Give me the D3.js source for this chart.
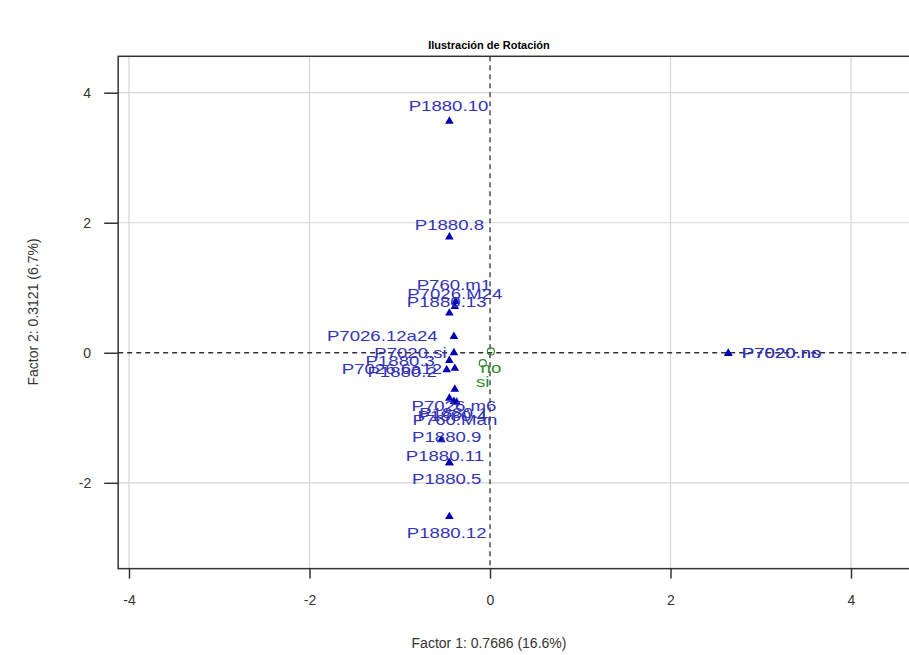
<!DOCTYPE html>
<meta charset="utf-8">
<script src="https://d3js.org/d3.v7.min.js"></script>
<style>
  body { margin: 0; background: #fff; }
  svg { font-family: "Liberation Sans", Arial, sans-serif; }
</style>
<div id="chart"></div>
<script>

// factor coordinates of the active categories (blue triangles)
var labels = ["P1880.10", "P1880.8", "P760.m1", "P7026.M24", "P1880.13", "P7026.12a24",
              "P7020.si", "P1880.3", "P7026.6a12", "P1880.2", "P7026.m6", "P1880.1",
              "P1880.4", "P760.Man", "P1880.9", "P1880.11", "P1880.5", "P1880.12",
              "P7020.no", "P7020.ns"]
var f1 = [-0.45, -0.45, -0.38, -0.39, -0.45, -0.40, -0.40, -0.45, -0.39, -0.48, -0.39, -0.45,
          -0.40, -0.37, -0.54, -0.45, -0.45, -0.45, 2.64, 2.64]
var f2 = [3.56, 1.78, 0.79, 0.71, 0.61, 0.25, 0.00, -0.12, -0.24, -0.26, -0.56, -0.70,
          -0.75, -0.76, -1.34, -1.69, -1.69, -2.52, -0.01, -0.01]
// where each label was placed (factor units) and its anchor
var labX = [-0.46, -0.45, -0.40, -0.39, -0.48, -0.58, -0.48, -0.61, -0.53, -0.59, -0.40, -0.40,
            -0.42, -0.39, -0.48, -0.50, -0.48, -0.48, 2.79, 2.79]
var labY = [3.79, 1.97, 1.04, 0.90, 0.78, 0.25, 0.00, -0.13, -0.25, -0.30, -0.82, -0.93,
            -0.97, -1.04, -1.30, -1.59, -1.95, -2.78, -0.01, -0.01]
var labAnchor = ["middle", "middle", "middle", "middle", "middle", "end",
                 "end", "end", "end", "end", "middle", "middle",
                 "middle", "middle", "middle", "middle", "middle", "middle",
                 "start", "start"]

// supplementary categories (green)
var supLabels = ["no", "si"]
var supF1 = [0.01, -0.08]
var supF2 = [0.02, -0.16]
var supLabY = [-0.24, -0.45]

var xTicks = [-4, -2, 0, 2, 4]
var yTicks = [-2, 0, 2, 4]
var xLim = [-4.12, 4.9]
var yLim = [-3.32, 4.56]

var W = 909, H = 655
var stretch = 1.33   // labels in the source are drawn wide

var x = d3.scaleLinear().domain([-4, 4]).range([129, 851])
var y = d3.scaleLinear().domain([-2, 4]).range([482.8, 92.7])

var svg = d3.select("#chart").append("svg")
  .attr("width", W)
  .attr("height", H)

// grid
svg.selectAll(".gx").data(xTicks.filter(function(d) { return d != 0 })).enter()
  .append("line")
  .attr("x1", function(d) { return x(d) }).attr("x2", function(d) { return x(d) })
  .attr("y1", y(yLim[1])).attr("y2", y(yLim[0]))
  .attr("stroke", "#d6d6d6").attr("stroke-width", 1.2)
svg.selectAll(".gy").data(yTicks.filter(function(d) { return d != 0 })).enter()
  .append("line")
  .attr("x1", x(xLim[0])).attr("x2", x(xLim[1]))
  .attr("y1", function(d) { return y(d) }).attr("y2", function(d) { return y(d) })
  .attr("stroke", "#d6d6d6").attr("stroke-width", 1.2)

// zero lines
svg.append("line")
  .attr("x1", x(0)).attr("x2", x(0)).attr("y1", y(yLim[1])).attr("y2", y(yLim[0]))
  .attr("stroke", "#333").attr("stroke-width", 1.3).attr("stroke-dasharray", "5,4")
svg.append("line")
  .attr("x1", x(xLim[0])).attr("x2", x(xLim[1])).attr("y1", y(0)).attr("y2", y(0))
  .attr("stroke", "#333").attr("stroke-width", 1.3).attr("stroke-dasharray", "5,4")

// box
svg.append("rect")
  .attr("x", x(xLim[0])).attr("y", y(yLim[1]))
  .attr("width", x(xLim[1]) - x(xLim[0]))
  .attr("height", y(yLim[0]) - y(yLim[1]))
  .attr("fill", "none").attr("stroke", "#333").attr("stroke-width", 1.5)

// axes
var fmt = function(d) { return d3.format("d")(d).replace("−", "-") }
var xAxis = svg.append("g")
  .attr("transform", "translate(0," + y(yLim[0]) + ")")
  .call(d3.axisBottom(x).tickValues(xTicks).tickFormat(fmt).tickSize(10).tickPadding(16))
var yAxis = svg.append("g")
  .attr("transform", "translate(" + x(xLim[0]) + ",0)")
  .call(d3.axisLeft(y).tickValues(yTicks).tickFormat(fmt).tickSize(14).tickPadding(13))
xAxis.select(".domain").remove()
yAxis.select(".domain").remove()
svg.selectAll(".tick line").attr("stroke", "#333").attr("stroke-width", 1.5)
svg.selectAll(".tick text").attr("fill", "#333")
  .style("font-size", "14px").style("font-family", "'Liberation Sans', Arial, sans-serif")

// titles
svg.append("text")
  .attr("x", 489).attr("y", 45)
  .attr("text-anchor", "middle").attr("dy", "0.35em")
  .style("font-size", "11px").style("font-weight", "bold")
  .text("Ilustración de Rotación")
svg.append("text")
  .attr("x", 489).attr("y", 643)
  .attr("text-anchor", "middle").attr("dy", "0.35em")
  .attr("fill", "#333")
  .style("font-size", "14px")
  .text("Factor 1: 0.7686 (16.6%)")
svg.append("text")
  .attr("transform", "translate(33,312) rotate(-90)")
  .attr("text-anchor", "middle").attr("dy", "0.35em")
  .attr("fill", "#333")
  .style("font-size", "14px")
  .text("Factor 2: 0.3121 (6.7%)")

var pts = labels.map(function(d, i) {
  return {name: d, f1: f1[i], f2: f2[i], lx: labX[i], ly: labY[i], anchor: labAnchor[i]}
})
var sup = supLabels.map(function(d, i) {
  return {name: d, f1: supF1[i], f2: supF2[i], ly: supLabY[i]}
})

var tri = d3.symbol().type(d3.symbolTriangle).size(32)

svg.selectAll(".pt").data(pts).enter()
  .append("path")
  .attr("d", tri)
  .attr("transform", function(d) { return "translate(" + x(d.f1) + "," + y(d.f2) + ")" })
  .attr("fill", "#0000b4")

svg.selectAll(".lab").data(pts).enter()
  .append("text")
  .attr("transform", function(d) {
    return "translate(" + x(d.lx) + "," + y(d.ly) + ") scale(" + stretch + ",1)"
  })
  .attr("dy", "0.35em")
  .attr("text-anchor", function(d) { return d.anchor })
  .attr("fill", "#3434b6")
  .style("font-size", "14px")
  .text(function(d) { return d.name })

svg.selectAll(".sp").data(sup).enter()
  .append("circle")
  .attr("cx", function(d) { return x(d.f1) })
  .attr("cy", function(d) { return y(d.f2) })
  .attr("r", 3.5)
  .attr("fill", "none").attr("stroke", "#2e8b2e").attr("stroke-width", 1.2)

svg.selectAll(".slab").data(sup).enter()
  .append("text")
  .attr("transform", function(d) {
    return "translate(" + x(d.f1) + "," + y(d.ly) + ") scale(" + stretch + ",1)"
  })
  .attr("dy", "0.35em")
  .attr("text-anchor", "middle")
  .attr("fill", "#2e8b2e")
  .style("font-size", "14px")
  .text(function(d) { return d.name })

</script>
